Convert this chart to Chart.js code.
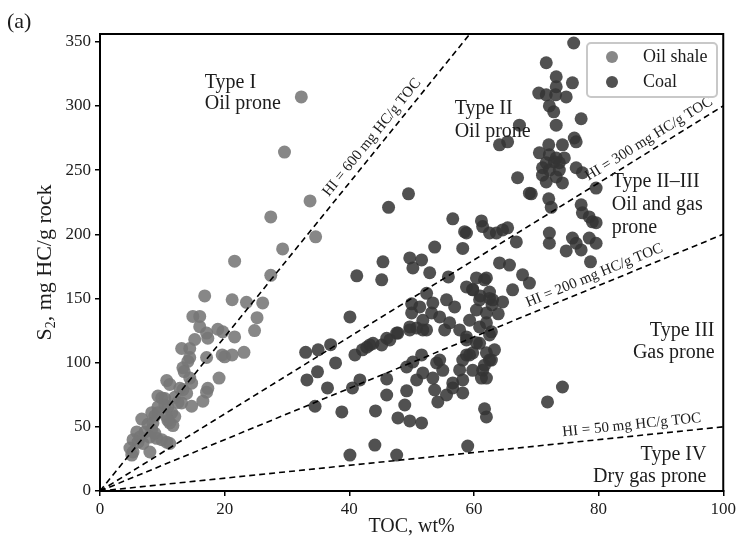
<!DOCTYPE html>
<html>
<head>
<meta charset="utf-8">
<script src="https://cdn.jsdelivr.net/npm/chart.js@4.4.1/dist/chart.umd.min.js"></script>
<style>
  html, body { margin: 0; padding: 0; background: #fff; }
  #wrap { width: 739px; height: 539px; position: relative; }
</style>
</head>
<body>
<div id="wrap"><canvas id="kerogen" width="739" height="539"></canvas></div>
<script>
// ---------- data ----------
const xTicks = [0, 20, 40, 60, 80, 100];
const yTicks = [0, 50, 100, 150, 200, 250, 300, 350];

// hydrogen index reference lines (mg HC/g TOC)
const hiValues = [600, 300, 200, 50];
const hiLabelToc = [45, 89, 80, 85.5];   // where each label sits along its line

const oilShaleToc = [32.3, 29.6, 33.7, 27.4, 34.6, 29.3, 27.4, 26.1, 25.2, 24.8,
  21.6, 16.8, 21.2, 23.5, 16.0, 14.9, 16.0, 17.1, 17.3, 18.9, 19.7, 21.6,
  13.1, 14.4, 15.2, 14.4, 14.1, 13.3, 13.5, 17.1, 19.6, 20.0, 21.2, 23.1,
  19.1, 14.4, 14.7, 10.7, 11.2, 12.8, 13.3, 13.9, 17.3, 17.1, 9.3, 9.9, 10.4,
  12.0, 12.5, 13.1, 14.7, 16.5, 8.3, 8.8, 9.3, 11.5, 12.0, 11.2, 11.7,
  6.7, 7.7, 8.5, 5.9, 7.2, 6.4, 5.3, 6.1, 6.9, 4.8, 5.3, 5.1,
  8.0, 9.1, 9.9, 10.7, 11.2, 8.0, 8.3, 8.8, 10.4, 10.9, 9.3, 10.7, 10.9];
const oilShaleS2 = [307, 264, 226, 213.5, 198, 188.6, 168, 146.5, 135, 125,
  179, 152, 149, 147, 136, 136, 128, 123, 119, 126, 124, 120,
  111, 111, 118, 104, 101, 96, 93, 104, 106, 104.5, 106, 108,
  88, 88, 84, 86, 83, 80, 79, 76, 80, 77, 74, 72.5, 72,
  73, 69, 68.6, 66, 70, 61, 58.5, 61, 61, 58, 53, 51,
  56, 52, 53, 46, 46, 42, 40, 38, 37, 33.5, 30.4, 28,
  42, 41, 40, 38, 37, 30.4, 47.5, 45, 67, 65.5, 65.5, 58, 55];

const coalToc = [49.5, 46.3, 56.6, 61.2, 61.4, 58.5, 53.7, 58.2, 45.4, 49.7, 51.6, 50.2,
  41.2, 45.2, 52.9, 55.9, 60.4, 62.0, 52.4, 40.1, 50.0, 51.3, 53.4, 55.6, 56.9,
  50.0, 53.2, 54.5, 56.1, 51.8, 52.4, 49.7, 50.8, 47.8, 46.0, 43.8, 42.8, 57.7,
  60.9, 62.0, 59.8, 61.0, 62.5, 62.9, 63.9,
  76.0, 71.6, 73.2, 73.2, 75.8, 70.4, 71.6, 73.1, 74.8, 72.1, 72.8, 77.2, 67.3,
  73.2, 76.1, 76.4, 65.4, 64.1, 72.0, 74.2, 70.5, 72.1, 73.2, 74.5, 71.6, 72.9,
  73.7, 71.0, 72.1, 73.7, 71.0, 73.2, 74.2, 71.6, 76.4, 77.4, 67.0, 79.6, 68.9,
  72.0, 72.4, 77.2, 77.4, 78.5, 79.0, 79.6, 63.6, 64.6, 66.8, 72.1, 72.1, 75.8,
  76.4, 78.5, 79.6,
  69.2, 62.5, 65.4, 58.8, 74.8, 77.2, 78.7, 64.1, 65.7, 67.8, 68.9, 66.2, 61.7,
  62.5, 59.8, 58.8, 60.9, 63.0, 64.6, 60.4, 62.0, 59.3, 62.8, 58.8, 60.9, 59.8,
  62.0, 58.2, 62.5, 61.4, 59.8,
  74.2, 71.8, 40.1, 44.1, 47.6, 59.0, 38.8, 44.2, 47.8, 49.7, 51.6, 48.9, 49.2,
  46.0, 46.0, 34.5, 33.2, 34.9, 36.5, 37.8, 40.9, 41.7, 40.5, 42.1, 43.3, 45.2,
  46.5, 47.6, 49.7, 51.8, 55.3, 49.2, 50.2, 51.6, 50.8, 51.8, 53.4, 54.0, 54.5,
  53.7, 54.2, 55.6, 55.0, 56.6, 56.6, 58.2, 58.2, 57.7, 58.8, 61.2, 62.0, 61.7,
  62.0, 58.8, 60.4, 62.5, 63.3, 61.7, 59.3, 62.8, 33.0, 35.0, 37.0];
const coalS2 = [231.5, 221, 212, 210.4, 206, 202, 190, 189, 178.5, 181.6, 180, 173.8,
  167.6, 164.5, 170, 166.8, 166, 166, 154, 135.6, 145.8, 143.4, 146.5, 148.9, 143.4,
  138.7, 138.7, 135.6, 131, 133, 125.5, 127.8, 127, 123, 119, 115, 112, 125.5,
  127.8, 131, 157, 152, 150, 145, 138,
  349, 333.6, 322.7, 314.9, 318, 310, 308.6, 308.6, 307, 300, 295.4, 290, 285,
  285, 275, 272, 272, 269.7, 269.7, 269.7, 263.4, 262, 259.5, 259.5, 255.7, 256.4,
  255.7, 251.8, 250, 250, 246, 244.7, 240, 240.8, 251.8, 247.9, 244, 236, 232,
  227.6, 221, 223, 216.7, 213.5, 209.7, 209, 201, 203.4, 194, 201, 193, 197,
  193, 197, 193,
  231.5, 201, 205, 201, 187, 187.8, 178.5, 177.7, 176, 168.4, 162, 156.7, 164.5,
  155, 156.7, 159, 148.9, 148.9, 147.3, 141, 138.7, 133, 124, 120, 115, 107.6,
  107.6, 102, 102, 94, 94,
  81, 69.4, 28, 35.8, 28, 35, 61.6, 62.4, 56.9, 54.6, 53, 67, 78,
  74.8, 87.3, 66, 86.5, 92.8, 80.3, 99.8, 106, 86.5, 80.3, 110, 113.8, 113.8,
  117.7, 123, 125.5, 125.5, 125.5, 96.6, 100.5, 106, 86.5, 92, 88, 99.8, 102,
  78.7, 69.4, 74.8, 94, 84.2, 80.3, 76.4, 86.5, 94.3, 106, 88, 88, 64,
  57.7, 117.7, 115.4, 121.6, 110, 98, 106, 102, 108, 110, 114];

// field labels: [text lines], TOC, S2 of each line, alignment
const fieldLabels = [
  { lines: ['Type I', 'Oil prone'], x: 16.8, y: [318, 301.5], align: 'left' },
  { lines: ['Type II', 'Oil prone'], x: 56.9, y: [297.7, 279.8], align: 'left' },
  { lines: ['Type II\u2013III', 'Oil and gas', 'prone'], x: 82.1, y: [240.8, 223, 205], align: 'left' },
  { lines: ['Type III', 'Gas prone'], x: 98.6, y: [124.7, 107.6], align: 'right' },
  { lines: ['Type IV', 'Dry gas prone'], x: 97.3, y: [28, 10.9], align: 'right' }
];

const SERIF = '"Liberation Serif", "Times New Roman", serif';
const TEXT = '#1c1c1c';
const OIL_SHALE = 'rgba(118,118,118,0.88)';
const COAL = 'rgba(52,52,52,0.86)';

const pts = (xs, ys) => xs.map((v, i) => ({ x: v, y: ys[i] }));

// ---------- decorations drawn on the canvas ----------
const decor = {
  id: 'decor',
  afterDatasetsDraw(chart) {
    const { ctx, chartArea: a, scales: { x, y } } = chart;
    ctx.save();

    // HI labels, rotated along their lines
    ctx.font = '15px ' + SERIF;
    ctx.fillStyle = TEXT;
    ctx.textAlign = 'center';
    ctx.textBaseline = 'middle';
    hiValues.forEach((hi, i) => {
      const t = hiLabelToc[i];
      const px = x.getPixelForValue(t), py = y.getPixelForValue(hi * t / 100);
      const qx = x.getPixelForValue(t + 1), qy = y.getPixelForValue(hi * (t + 1) / 100);
      let dx = qx - px, dy = qy - py;
      const len = Math.hypot(dx, dy);
      dx /= len; dy /= len;
      ctx.save();
      ctx.translate(px + dy * 11, py - dx * 11);
      ctx.rotate(Math.atan2(dy, dx));
      ctx.fillText('HI = ' + hi + ' mg HC/g TOC', 0, 0);
      ctx.restore();
    });

    // kerogen type fields
    ctx.font = '20px ' + SERIF;
    fieldLabels.forEach(f => {
      ctx.textAlign = f.align;
      f.lines.forEach((s, j) => ctx.fillText(s, x.getPixelForValue(f.x), y.getPixelForValue(f.y[j])));
    });

    // plot frame
    ctx.strokeStyle = '#000';
    ctx.lineWidth = 2;
    ctx.strokeRect(a.left, a.top, a.right - a.left, a.bottom - a.top);

    // legend: oil shale first, then coal
    const lx = 587, ly = 43, lw = 130, lh = 54;
    ctx.fillStyle = '#fff';
    ctx.strokeStyle = '#c8c8c8';
    ctx.lineWidth = 2;
    ctx.beginPath();
    ctx.roundRect(lx, ly, lw, lh, 4);
    ctx.fill();
    ctx.stroke();
    ctx.font = '18px ' + SERIF;
    ctx.textAlign = 'left';
    chart.data.datasets.filter(d => d.inLegend).reverse().forEach((d, i) => {
      const cy = ly + 14 + i * 25;
      ctx.fillStyle = d.backgroundColor;
      ctx.beginPath();
      ctx.arc(lx + 25, cy, 6, 0, Math.PI * 2);
      ctx.fill();
      ctx.fillStyle = TEXT;
      ctx.fillText(d.label, lx + 56, cy);
    });

    // axis titles
    ctx.textAlign = 'center';
    ctx.font = '20px ' + SERIF;
    ctx.fillText('TOC, wt%', (a.left + a.right) / 2, 527);

    ctx.save();
    ctx.translate(45, (a.top + a.bottom) / 2);
    ctx.rotate(-Math.PI / 2);
    const parts = [['S', 22, 0], ['2', 14, 6], [', mg HC/g rock', 22, 0]];
    let total = 0;
    parts.forEach(p => { ctx.font = p[1] + 'px ' + SERIF; total += ctx.measureText(p[0]).width; });
    let cx = -total / 2;
    ctx.textAlign = 'left';
    parts.forEach(p => {
      ctx.font = p[1] + 'px ' + SERIF;
      ctx.fillText(p[0], cx, p[2]);
      cx += ctx.measureText(p[0]).width;
    });
    ctx.restore();

    // panel tag
    ctx.font = '22px ' + SERIF;
    ctx.textAlign = 'left';
    ctx.fillText('(a)', 7, 22);

    ctx.restore();
  }
};

// ---------- chart ----------
const hiLines = hiValues.map(hi => ({
  type: 'line',
  data: [{ x: 0, y: 0 }, { x: 100, y: hi }],
  borderColor: '#000',
  borderWidth: 1.6,
  borderDash: [6, 4],
  pointRadius: 0,
  fill: false
}));

new Chart(document.getElementById('kerogen'), {
  type: 'scatter',
  data: {
    datasets: [
      ...hiLines,
      { label: 'Coal', data: pts(coalToc, coalS2), backgroundColor: COAL, pointRadius: 6.5, borderWidth: 0, inLegend: true },
      { label: 'Oil shale', data: pts(oilShaleToc, oilShaleS2), backgroundColor: OIL_SHALE, pointRadius: 6.5, borderWidth: 0, inLegend: true }
    ]
  },
  options: {
    responsive: false,
    animation: false,
    events: [],
    layout: { padding: { top: 34, right: 15, left: 0, bottom: 0 } },
    plugins: { legend: { display: false }, tooltip: { enabled: false } },
    scales: {
      x: {
        min: 0, max: 100,
        afterBuildTicks: s => { s.ticks = xTicks.map(v => ({ value: v })); },
        afterFit: s => { s.height = 48; },
        ticks: { font: { family: SERIF, size: 17 }, color: TEXT, padding: 3, maxRotation: 0 },
        grid: { drawOnChartArea: false, tickLength: 5, color: '#000', lineWidth: 1.5 },
        border: { display: true, color: '#000', width: 2 }
      },
      y: {
        min: 0, max: 356,
        afterBuildTicks: s => { s.ticks = yTicks.map(v => ({ value: v })); },
        afterFit: s => { s.width = 100; },
        ticks: { font: { family: SERIF, size: 17 }, color: TEXT, padding: 4 },
        grid: { drawOnChartArea: false, tickLength: 5, color: '#000', lineWidth: 1.5 },
        border: { display: true, color: '#000', width: 2 }
      }
    }
  },
  plugins: [decor]
});
</script>
</body>
</html>
